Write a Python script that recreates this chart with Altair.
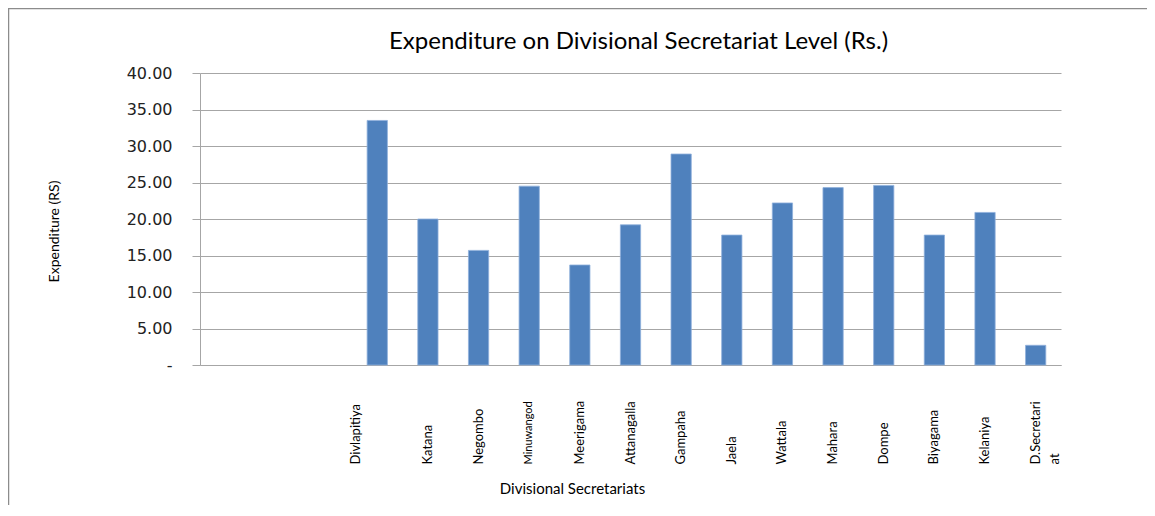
import altair as alt
import pandas as pd

# Data
blank_slots = [" ", "  ", "   "]
districts = ["Divlapitiya", "Katana", "Negombo", "Minuwangod", "Meerigama",
             "Attanagalla", "Gampaha", "Jaela", "Wattala", "Mahara", "Dompe",
             "Biyagama", "Kelaniya", "D.Secretariat"]
expenditure = [33.5, 20.0, 15.7, 24.5, 13.7, 19.2, 28.9, 17.8, 22.2, 24.3,
               24.6, 17.8, 20.9, 2.7]
y_ticks = [0, 5, 10, 15, 20, 25, 30, 35, 40]

domain = blank_slots + districts
df = pd.DataFrame({"district": districts, "value": expenditure})
frame_df = pd.DataFrame({"k": [0]})

GRID = "#a6a6a6"

bars = alt.Chart(df).mark_bar(
    color="#4f81bd", stroke="#8fb0dc", strokeWidth=0.8
).encode(
    x=alt.X(
        "district:N",
        sort=domain,
        scale=alt.Scale(domain=domain, paddingInner=0.6, paddingOuter=0.3),
        axis=alt.Axis(
            title="Divisional Secretariats",
            titleFont="Lato", titleFontSize=15, titleFontWeight="normal",
            titleColor="#000000",
            titleX=372, titleY=128, titleAlign="center",
            titleBaseline="alphabetic",
            labelAngle=270, labelAlign="left", labelBaseline="middle",
            labelPadding=99, labelFont="Lato",
            labelFontSize={"condition": {"test": "datum.value === 'Minuwangod'", "value": 11}, "value": 13},
            labelOffset={"condition": {"test": "datum.value === 'Divlapitiya'", "value": -21},
                         "value": 0},
            labelExpr="datum.value === 'D.Secretariat' ? ['D.Secretari', 'at'] : datum.value",
            labelLineHeight=19,
            labelColor="#000000", labelOverlap=False, labelBound=False,
            ticks=False, grid=False, domainColor=GRID, domainWidth=1,
        ),
    ),
    y=alt.Y(
        "value:Q",
        scale=alt.Scale(domain=[0, 40], nice=False),
        axis=alt.Axis(
            title="Expenditure (RS)",
            titleFont="Lato", titleFontSize=14, titleFontWeight="normal",
            titleColor="#000000",
            titleAngle=270, titleX=-142, titleY=158, titleAlign="center",
            titleBaseline="alphabetic",
            values=y_ticks,
            labelExpr="datum.value == 0 ? '-\u00a0\u00a0\u00a0' : format(datum.value, '.2f')",
            labelFont="DejaVu Sans", labelFontSize=16, labelColor="#222222",
            labelPadding=20,
            tickSize=8, tickColor=GRID, domainColor=GRID,
            gridColor=GRID, gridWidth=1,
        ),
    ),
)

frame = alt.Chart(frame_df).mark_rect(
    filled=False, stroke="#8c8c8c", strokeWidth=1.5, clip=False
).encode(
    x=alt.value(-191.5), x2=alt.value(1000),
    y=alt.value(-64.5), y2=alt.value(600),
)

chart = alt.layer(frame, bars).properties(
    width=861,
    height=292,
    autosize="none",
    padding={"left": 192, "top": 65, "right": 86, "bottom": 140},
    background="white",
    title=alt.Title(
        "Expenditure on Divisional Secretariat Level (Rs.)",
        font="Lato", fontSize=24, fontWeight="normal", color="#000000",
        anchor="middle", dx=8, offset=-65, baseline="alphabetic",
    ),
).configure_view(stroke=None)

chart.save("out.html", embed_options={"renderer": "svg", "actions": False})
